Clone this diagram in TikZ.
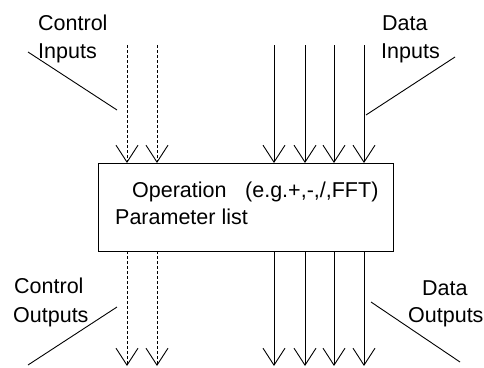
\documentclass[tikz,border=0pt]{standalone}
\usepackage{fontspec}
\setmainfont{Liberation Sans}
\usetikzlibrary{arrows.meta}
\begin{document}
\begin{tikzpicture}[x=1pt,y=-1pt,
  lbl/.style={anchor=base west,inner sep=0pt,font=\fontsize{21.5}{21.5}\selectfont},
  flow/.style={line width=0.9pt,-{Straight Barb[length=17pt,width=22pt,line width=0.9pt]}},
  ctrl/.style={flow,dash pattern=on 3pt off 2pt},
  pointer/.style={line width=0.9pt}]
\useasboundingbox (0,0) rectangle (484,367);

% operation block
\node[draw,line width=1.1pt,minimum width=295pt,minimum height=88pt,anchor=north west,inner sep=0pt]
  (op) at (98,163) {};
\node[lbl] (opname) at (132,197) {Operation};
\node[lbl] (opex) at (245,197) {(e.g.+,-,/,FFT)};
\node[lbl] (params) at (115,224) {Parameter list};

% end points of the six signal lines
\foreach \n/\x in {c1/127,c2/157,d1/274,d2/305,d3/334,d4/364}{
  \coordinate (in\n) at (\x,45);
  \coordinate (top\n) at (\x,163);
  \coordinate (bot\n) at (\x,251);
  \coordinate (out\n) at (\x,366);
}
% inputs above the block
\draw[ctrl] (inc1) -- (topc1);
\draw[ctrl] (inc2) -- (topc2);
\draw[flow] (ind1) -- (topd1);
\draw[flow] (ind2) -- (topd2);
\draw[flow] (ind3) -- (topd3);
\draw[flow] (ind4) -- (topd4);

% outputs below the block
\draw[ctrl] (botc1) -- (outc1);
\draw[ctrl] (botc2) -- (outc2);
\draw[flow] (botd1) -- (outd1);
\draw[flow] (botd2) -- (outd2);
\draw[flow] (botd3) -- (outd3);
\draw[flow] (botd4) -- (outd4);

% labels with pointer lines
\node[lbl] (ci1) at (38,30) {Control};
\node[lbl] (ci2) at (38,58) {Inputs};
\coordinate (ciA) at (28,52);
\coordinate (ciB) at (117,110);
\draw[pointer] (ciA) -- (ciB);

\node[lbl] (di1) at (382,30) {Data};
\node[lbl] (di2) at (381,58) {Inputs};
\coordinate (diA) at (455,57);
\coordinate (diB) at (366,115);
\draw[pointer] (diA) -- (diB);

\node[lbl] (co1) at (14,293) {Control};
\node[lbl] (co2) at (13,322) {Outputs};
\coordinate (coA) at (117,307);
\coordinate (coB) at (28,365);
\draw[pointer] (coA) -- (coB);

\node[lbl] (do1) at (422,295) {Data};
\node[lbl] (do2) at (408,322) {Outputs};
\coordinate (doA) at (371,302);
\coordinate (doB) at (460,362);
\draw[pointer] (doA) -- (doB);
\end{tikzpicture}
\end{document}
